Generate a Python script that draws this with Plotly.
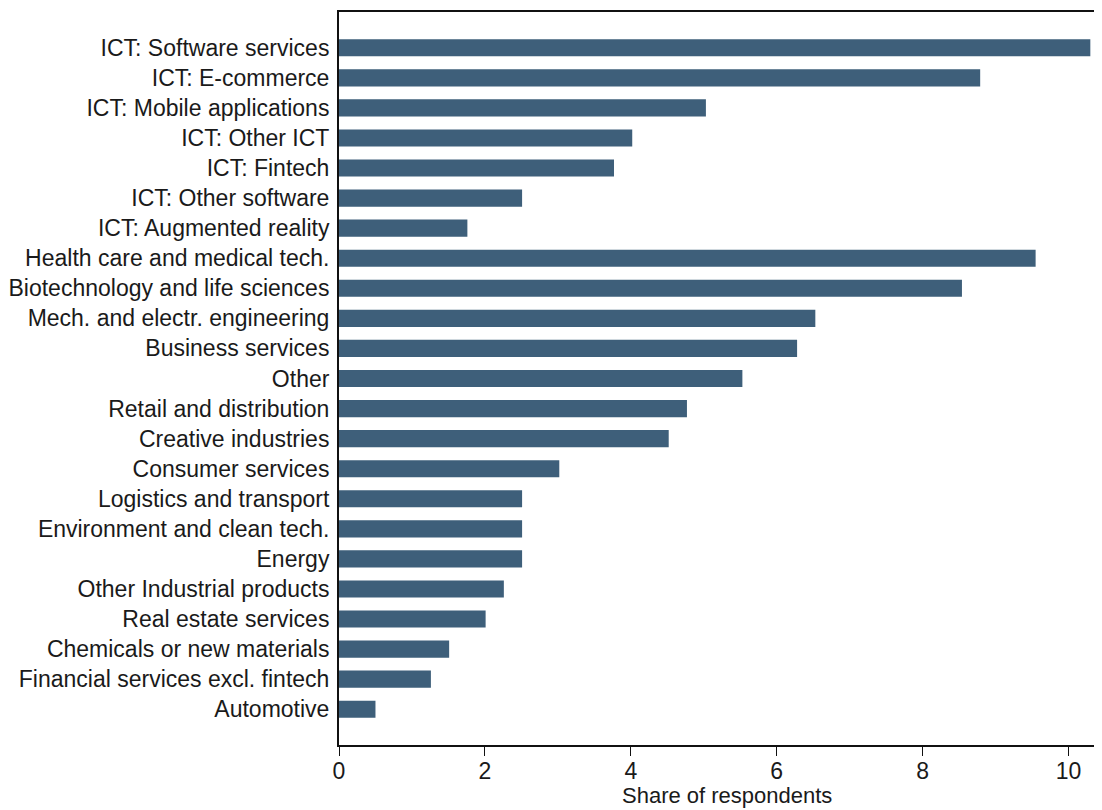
import plotly.graph_objects as go

categories = [
    "ICT: Software services", "ICT: E-commerce", "ICT: Mobile applications",
    "ICT: Other ICT", "ICT: Fintech", "ICT: Other software", "ICT: Augmented reality",
    "Health care and medical tech.", "Biotechnology and life sciences",
    "Mech. and electr. engineering", "Business services", "Other",
    "Retail and distribution", "Creative industries", "Consumer services",
    "Logistics and transport", "Environment and clean tech.", "Energy",
    "Other Industrial products", "Real estate services", "Chemicals or new materials",
    "Financial services excl. fintech", "Automotive",
]
shares = [10.30, 8.79, 5.03, 4.02, 3.77, 2.51, 1.76,
          9.55, 8.54, 6.53, 6.28, 5.53, 4.77, 4.52, 3.02,
          2.51, 2.51, 2.51, 2.26, 2.01, 1.51, 1.26, 0.50]
x_ticks = [0, 2, 4, 6, 8, 10]
x_title = "Share of respondents"

FONT = "Liberation Sans, Arial, sans-serif"
BAR = "#3e5f7a"
FS = 23

fig = go.Figure(go.Bar(
    x=shares, y=categories, orientation="h",
    marker=dict(color=BAR, line=dict(width=0)),
    width=0.57,
))

fig.update_layout(
    width=1094, height=802,
    margin=dict(l=331, r=0, t=4, b=65),
    paper_bgcolor="white", plot_bgcolor="white",
    font=dict(family=FONT, size=FS, color="#1a1a1a"),
    showlegend=False,
    xaxis=dict(
        range=[0, 10.46], tickvals=x_ticks, ticktext=[str(t) for t in x_ticks],
        showgrid=False, zeroline=False,
        showline=True, linecolor="#111", linewidth=2, mirror=True,
        ticks="outside", ticklen=9, tickwidth=1.3, tickcolor="#111",
        ticklabelstandoff=-5,
        tickfont=dict(size=FS),
    ),
    yaxis=dict(
        type="category", categoryorder="array", categoryarray=categories,
        range=[23.19, -1.19],
        showgrid=False, zeroline=False,
        showline=True, linecolor="#111", linewidth=2,
        ticks="", ticklabelstandoff=3,
        tickfont=dict(size=FS),
    ),
    annotations=[dict(
        text=x_title, xref="paper", yref="paper", x=0.508, y=-0.0695,
        xanchor="center", yanchor="middle", showarrow=False,
        font=dict(size=22, family=FONT, color="#1a1a1a"),
    )],
)

fig.write_html("out.html")
